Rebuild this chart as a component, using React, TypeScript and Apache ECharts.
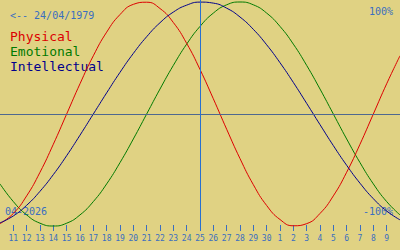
import React, { useEffect, useRef } from "react";
import * as echarts from "echarts";

const dates = [
  "2026-04-10", "2026-04-11", "2026-04-12", "2026-04-13", "2026-04-14", "2026-04-15",
  "2026-04-16", "2026-04-17", "2026-04-18", "2026-04-19", "2026-04-20", "2026-04-21",
  "2026-04-22", "2026-04-23", "2026-04-24", "2026-04-25", "2026-04-26", "2026-04-27",
  "2026-04-28", "2026-04-29", "2026-04-30", "2026-05-01", "2026-05-02", "2026-05-03",
  "2026-05-04", "2026-05-05", "2026-05-06", "2026-05-07", "2026-05-08", "2026-05-09",
  "2026-05-10",
];

const physical = [
  -0.979, -0.888, -0.731, -0.52, -0.27, 0, 0.27, 0.52, 0.731, 0.888, 0.979, 0.998,
  0.942, 0.817, 0.631, 0.398, 0.136, -0.136, -0.398, -0.631, -0.817, -0.942, -0.998,
  -0.979, -0.888, -0.731, -0.52, -0.27, 0, 0.27, 0.52,
];

const emotional = [
  -0.624, -0.782, -0.901, -0.975, -1, -0.975, -0.901, -0.782, -0.624, -0.434, -0.223,
  0, 0.223, 0.434, 0.624, 0.782, 0.901, 0.975, 1, 0.975, 0.901, 0.782, 0.624, 0.434,
  0.223, 0, -0.223, -0.434, -0.624, -0.782, -0.901,
];

const intellectual = [
  -0.972, -0.91, -0.815, -0.69, -0.541, -0.372, -0.189, 0, 0.189, 0.372, 0.541, 0.69,
  0.815, 0.91, 0.972, 0.999, 0.99, 0.945, 0.866, 0.756, 0.618, 0.458, 0.282, 0.095,
  -0.095, -0.282, -0.458, -0.618, -0.756, -0.866, -0.945,
];

const todayDate = "2026-04-25";
const birthLabel = "<-- 24/04/1979";
const monthLabel = "04-2026";
const seriesNames = ["Physical", "Emotional", "Intellectual"];
const seriesColors = ["#dc0000", "#007a00", "#00008c"];
const axisBlue = "#3a6ec0";
const mono = "DejaVu Sans Mono";

export default function App() {
  const ref = useRef<HTMLDivElement>(null);
  useEffect(() => {
    if (!ref.current) return;
    const chart = echarts.init(ref.current, undefined, { renderer: "svg" });
    const lastIdx = dates.length - 1;
    const showIdx = (i: number) => i > 0 && i < lastIdx;
    chart.setOption({
      animation: false,
      backgroundColor: "#e0d283",
      grid: { left: 0, right: 0, top: 0, bottom: 19, containLabel: false },
      xAxis: {
        type: "category",
        boundaryGap: false,
        data: dates,
        axisLine: { show: false, onZero: false },
        axisTick: {
          show: true,
          inside: true,
          length: 6,
          interval: (i: number) => showIdx(i),
          lineStyle: { color: axisBlue, width: 1 },
        },
        axisLabel: {
          interval: (i: number) => showIdx(i),
          color: axisBlue,
          fontSize: 8,
          fontFamily: mono,
          margin: 3,
          formatter: (v: string) => String(parseInt(v.slice(8), 10)),
        },
        splitLine: { show: false },
      },
      yAxis: {
        type: "value",
        min: -1.0446,
        max: 1.0179,
        show: false,
        splitLine: { show: false },
      },
      series: [
        {
          name: seriesNames[0],
          type: "line",
          data: physical,
          smooth: true,
          symbol: "none",
          lineStyle: { color: seriesColors[0], width: 1 },
          markLine: {
            silent: true,
            symbol: "none",
            label: { show: false },
            data: [
              { yAxis: 0, lineStyle: { color: "#4e6890", width: 1, type: "solid" } },
              { xAxis: todayDate, lineStyle: { color: "#2870d0", width: 1, type: "solid" } },
            ],
          },
          z: 3,
        },
        {
          name: seriesNames[1],
          type: "line",
          data: emotional,
          smooth: true,
          symbol: "none",
          lineStyle: { color: seriesColors[1], width: 1 },
          z: 2,
        },
        {
          name: seriesNames[2],
          type: "line",
          data: intellectual,
          smooth: true,
          symbol: "none",
          lineStyle: { color: seriesColors[2], width: 1 },
          z: 4,
        },
      ],
      graphic: [
        {
          type: "text",
          left: 10,
          top: 10,
          style: { text: birthLabel, fill: axisBlue, font: `10px '${mono}'` },
        },
        {
          type: "text",
          left: 10,
          top: 30,
          style: { text: seriesNames[0], fill: seriesColors[0], font: `13px '${mono}'` },
        },
        {
          type: "text",
          left: 10,
          top: 45,
          style: { text: seriesNames[1], fill: seriesColors[1], font: `13px '${mono}'` },
        },
        {
          type: "text",
          left: 10,
          top: 60,
          style: { text: seriesNames[2], fill: seriesColors[2], font: `13px '${mono}'` },
        },
        {
          type: "text",
          right: 7,
          top: 6,
          style: { text: "100%", fill: axisBlue, font: `10px '${mono}'` },
        },
        {
          type: "text",
          right: 7,
          top: 206,
          style: { text: "-100%", fill: axisBlue, font: `10px '${mono}'` },
        },
        {
          type: "text",
          left: 5,
          top: 206,
          style: { text: monthLabel, fill: axisBlue, font: `10px '${mono}'` },
        },
      ],
    });
    return () => chart.dispose();
  }, []);
  return (
    <div
      ref={ref}
      style={{ position: "fixed", left: 0, top: 0, width: 400, height: 250 }}
    />
  );
}
